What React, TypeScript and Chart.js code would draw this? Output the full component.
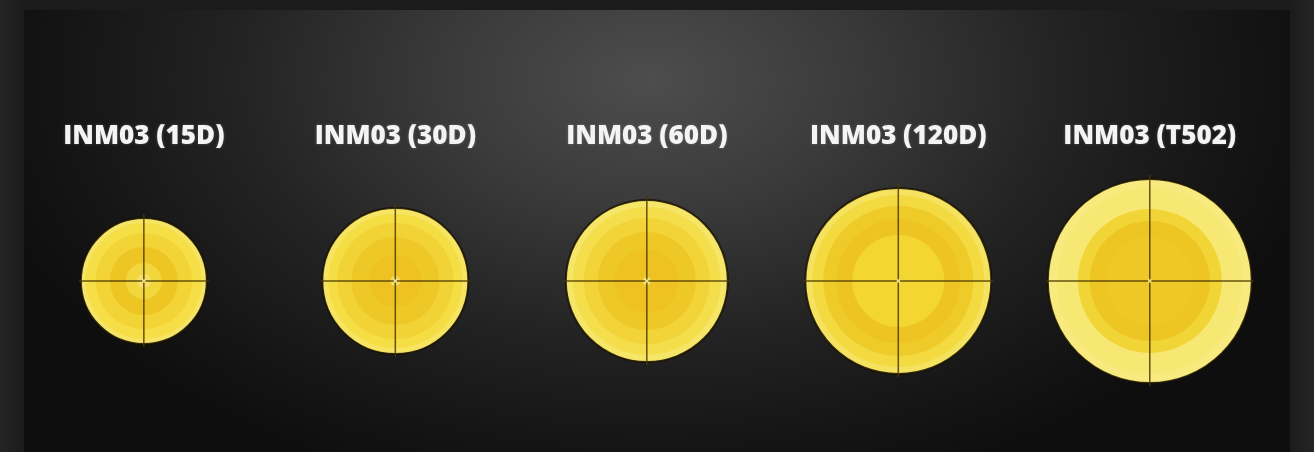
import React, { useEffect, useRef } from "react";
import { Chart, registerables } from "chart.js";

Chart.register(...registerables);

// Lamp names (categories)
const lamps = ["INM03 (15D)", "INM03 (30D)", "INM03 (60D)", "INM03 (120D)", "INM03 (T502)"];

// Beam contour radii (px) per lamp, outermost to innermost
const ring1 = [63, 73, 81, 93, 102];
const ring2 = [58, 67, 74, 86, 93];
const ring3 = [48, 58, 63, 75, 72];
const ring4 = [34, 44, 49, 62, 60];
const ring5 = [18, 26, 32, 46, 44];
const ring6 = [7, 5, 4, 3, 3];

// Colours per contour level, per lamp
const col1 = ["#f6e466", "#f6e462", "#f6e668", "#f5e260", "#f8ea7e"];
const col2 = ["#f5de46", "#f5dd44", "#f5de4c", "#f3da40", "#f7e874"];
const col3 = ["#f2d436", "#f2d336", "#f2d438", "#efcb2a", "#f1d436"];
const col4 = ["#eec624", "#eec826", "#eec826", "#edc424", "#edc624"];
const col5 = ["#f2d63e", "#edc222", "#edc222", "#f3d632", "#eec826"];
const col6 = ["#f5e06a", "#f4de68", "#f5e270", "#f4da56", "#f2d64a"];

const rings = [ring1, ring2, ring3, ring4, ring5, ring6];
const cols = [col1, col2, col3, col4, col5, col6];

const TITLE_Y = 144; // value on the y scale for the title row

const bgPlugin = {
  id: "bg",
  beforeDraw(chart: any) {
    const { ctx, width, height } = chart;
    ctx.save();
    const fg = ctx.createLinearGradient(0, 0, width, 0);
    fg.addColorStop(0, "#252525");
    fg.addColorStop(0.02, "#1b1b1b");
    fg.addColorStop(0.98, "#1b1b1b");
    fg.addColorStop(1, "#252525");
    ctx.fillStyle = fg;
    ctx.fillRect(0, 0, width, height);
    const px = 24, py = 10, pw = width - 48, ph = height - py;
    ctx.beginPath();
    ctx.rect(px, py, pw, ph);
    ctx.clip();
    ctx.translate(650, 80);
    ctx.scale(1.6, 1);
    const g = ctx.createRadialGradient(0, 0, 0, 0, 0, 430);
    g.addColorStop(0, "#4d4d4d");
    g.addColorStop(0.3, "#3a3a3a");
    g.addColorStop(0.6, "#232323");
    g.addColorStop(0.85, "#151515");
    g.addColorStop(1, "#0e0e0e");
    ctx.fillStyle = g;
    ctx.fillRect(-500, -200, 1000, 600);
    ctx.restore();
  },
};

const crossPlugin = {
  id: "cross",
  afterDatasetsDraw(chart: any) {
    const { ctx } = chart;
    const meta = chart.getDatasetMeta(0);
    const xs = chart.scales.x;
    const ys = chart.scales.y;
    ctx.save();
    meta.data.forEach((el: any, i: number) => {
      const r = el.options.radius;
      const x = el.x, y = el.y;
      ctx.strokeStyle = "rgba(75,56,0,0.85)";
      ctx.lineWidth = 1.5;
      ctx.beginPath();
      ctx.moveTo(x - r - 2, y);
      ctx.lineTo(x + r + 2, y);
      ctx.moveTo(x, y - r - 4);
      ctx.lineTo(x, y + r + 3);
      ctx.stroke();
      ctx.fillStyle = "rgba(250,236,140,0.9)";
      ctx.beginPath();
      ctx.arc(x, y, 1.8, 0, Math.PI * 2);
      ctx.fill();
      ctx.fillStyle = "#f4f4f4";
      ctx.font = "800 26px 'Open Sans'";
      ctx.textAlign = "center";
      ctx.textBaseline = "middle";
      ctx.shadowColor = "rgba(255,255,255,0.25)";
      ctx.shadowBlur = 3;
      ctx.fillText(lamps[i], xs.getPixelForValue(i), ys.getPixelForValue(TITLE_Y));
      ctx.shadowBlur = 0;
    });
    ctx.restore();
  },
};

export default function App() {
  const ref = useRef<HTMLCanvasElement>(null);
  useEffect(() => {
    document.body.style.margin = "0";
    const datasets = rings.map((ring, level) => ({
      label: "level " + (level + 1),
      data: lamps.map((_, i) => ({ x: i, y: 0, r: ring[i] })),
      backgroundColor: cols[level],
      borderColor: level === 0 ? "rgba(25,18,0,0.85)" : cols[level],
      borderWidth: level === 0 ? 2 : 0,
      order: 10 - level,
      clip: false as any,
    }));
    const chart = new Chart(ref.current!, {
      type: "bubble",
      data: { datasets },
      options: {
        animation: false,
        responsive: false,
        devicePixelRatio: 1,
        layout: { padding: 0, autoPadding: false },
        events: [],
        plugins: { legend: { display: false }, tooltip: { enabled: false } },
        scales: {
          x: { type: "linear", min: -0.572, max: 4.653, display: false },
          y: { type: "linear", min: -171, max: 281, display: false },
        },
      },
      plugins: [bgPlugin, crossPlugin],
    });
    return () => chart.destroy();
  }, []);
  return <canvas ref={ref} width={1314} height={452} style={{ display: "block" }} />;
}
